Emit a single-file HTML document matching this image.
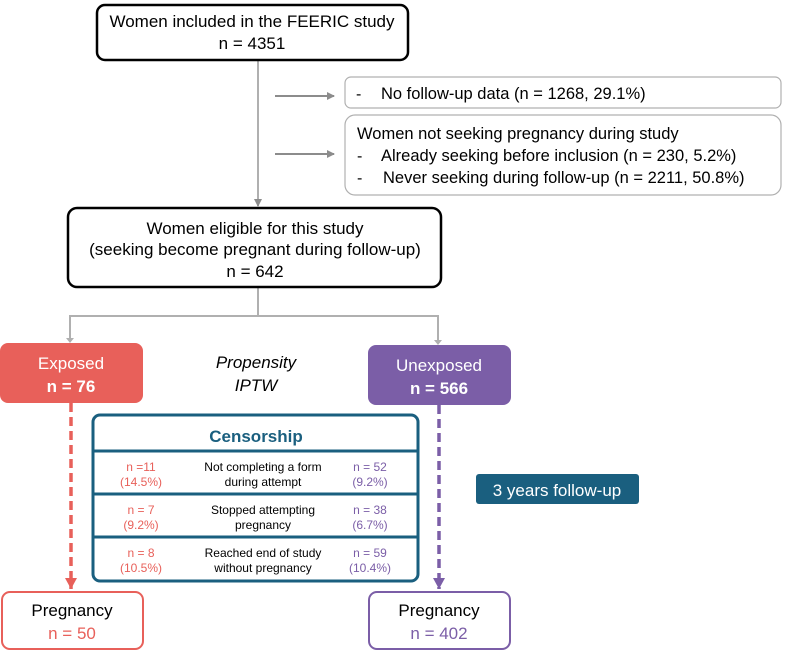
<!DOCTYPE html>
<html><head><meta charset="utf-8"><style>
html,body{margin:0;padding:0;background:#fff;}
svg{display:block;font-family:"Liberation Sans",Arial,sans-serif;}
</style></head><body>
<svg width="787" height="651" viewBox="0 0 787 651" xmlns="http://www.w3.org/2000/svg">
<defs>
<marker id="ga" markerWidth="8" markerHeight="8" refX="7" refY="4" orient="auto" markerUnits="userSpaceOnUse"><path d="M0,0 L8,4 L0,8z" fill="#8c8c8c"/></marker>
<marker id="ra" markerWidth="12" markerHeight="12" refX="6" refY="11" orient="0" markerUnits="userSpaceOnUse"><path d="M0,0 L12,0 L6,11z" fill="#e8605a"/></marker>
<marker id="pa" markerWidth="12" markerHeight="12" refX="6" refY="11" orient="0" markerUnits="userSpaceOnUse"><path d="M0,0 L12,0 L6,11z" fill="#7b5ea7"/></marker>
</defs>
<line x1="258" y1="60" x2="258" y2="206" stroke="#b0b0b0" stroke-width="2" marker-end="url(#ga)"/>
<line x1="275" y1="96" x2="334" y2="96" stroke="#8c8c8c" stroke-width="2" marker-end="url(#ga)"/>
<line x1="275" y1="154" x2="334" y2="154" stroke="#8c8c8c" stroke-width="2" marker-end="url(#ga)"/>
<polyline points="258,287 258,316" fill="none" stroke="#b0b0b0" stroke-width="2"/>
<polyline points="70,338 70,316 438,316 438,341" fill="none" stroke="#b0b0b0" stroke-width="2"/>
<path d="M66,338 l4,5 l4,-5z M434,340 l4,5 l4,-5z" fill="#b0b0b0"/>
<rect x="97" y="5" width="311" height="55" rx="8" fill="#fff" stroke="#000" stroke-width="2.5"/>
<text x="252" y="27" font-size="17" text-anchor="middle">Women included in the FEERIC study</text>
<text x="252" y="49" font-size="17" text-anchor="middle">n = 4351</text>
<rect x="345" y="77" width="436" height="31" rx="6" fill="#fff" stroke="#b0b0b0" stroke-width="1.2"/>
<text x="356" y="99" font-size="16">-</text>
<text x="381" y="99" font-size="16.5">No follow-up data (n = 1268, 29.1%)</text>
<rect x="345" y="115" width="436" height="80" rx="10" fill="#fff" stroke="#b0b0b0" stroke-width="1.2"/>
<text x="357" y="139" font-size="16.5">Women not seeking pregnancy during study</text>
<text x="357" y="161" font-size="16">-</text>
<text x="381" y="161" font-size="16.5">Already seeking before inclusion (n = 230, 5.2%)</text>
<text x="357" y="183" font-size="16">-</text>
<text x="383" y="183" font-size="16.5">Never seeking during follow-up (n = 2211, 50.8%)</text>
<rect x="68" y="208" width="373" height="79" rx="9" fill="#fff" stroke="#000" stroke-width="2.5"/>
<text x="255" y="234" font-size="17" text-anchor="middle">Women eligible for this study</text>
<text x="255" y="255" font-size="17" text-anchor="middle">(seeking become pregnant during follow-up)</text>
<text x="255" y="277" font-size="17" text-anchor="middle">n = 642</text>
<rect x="0" y="343" width="143" height="60" rx="8" fill="#e8605a"/>
<text x="71" y="369" font-size="17" fill="#fff" text-anchor="middle">Exposed</text>
<text x="71" y="392" font-size="17" font-weight="bold" fill="#fff" text-anchor="middle">n = 76</text>
<rect x="368" y="345" width="143" height="60" rx="8" fill="#7b5ea7"/>
<text x="439" y="371" font-size="17" fill="#fff" text-anchor="middle">Unexposed</text>
<text x="439" y="394" font-size="17" font-weight="bold" fill="#fff" text-anchor="middle">n = 566</text>
<text x="256" y="368" font-size="17" font-style="italic" text-anchor="middle">Propensity</text>
<text x="256" y="391" font-size="17" font-style="italic" text-anchor="middle">IPTW</text>
<line x1="71" y1="403" x2="71" y2="589" stroke="#e8605a" stroke-width="3.5" stroke-dasharray="9,5" marker-end="url(#ra)"/>
<line x1="439" y1="405" x2="439" y2="589" stroke="#7b5ea7" stroke-width="3.5" stroke-dasharray="9,5" marker-end="url(#pa)"/>
<rect x="93" y="415" width="325" height="166" rx="7" fill="#fff" stroke="#1a5f7f" stroke-width="3"/>
<line x1="93" y1="451" x2="418" y2="451" stroke="#1a5f7f" stroke-width="3"/>
<line x1="93" y1="494" x2="418" y2="494" stroke="#1a5f7f" stroke-width="3"/>
<line x1="93" y1="537" x2="418" y2="537" stroke="#1a5f7f" stroke-width="3"/>
<text x="256" y="442" font-size="17" font-weight="bold" fill="#1a5f7f" text-anchor="middle">Censorship</text>
<g font-size="12" text-anchor="middle">
<text x="141" y="471" fill="#e8605a">n =11</text><text x="141" y="486" fill="#e8605a">(14.5%)</text>
<text x="263" y="471">Not completing a form</text><text x="263" y="486">during attempt</text>
<text x="370" y="471" fill="#7b5ea7">n = 52</text><text x="370" y="486" fill="#7b5ea7">(9.2%)</text>
<text x="141" y="514" fill="#e8605a">n = 7</text><text x="141" y="529" fill="#e8605a">(9.2%)</text>
<text x="263" y="514">Stopped attempting</text><text x="263" y="529">pregnancy</text>
<text x="370" y="514" fill="#7b5ea7">n = 38</text><text x="370" y="529" fill="#7b5ea7">(6.7%)</text>
<text x="141" y="557" fill="#e8605a">n = 8</text><text x="141" y="572" fill="#e8605a">(10.5%)</text>
<text x="263" y="557">Reached end of study</text><text x="263" y="572">without pregnancy</text>
<text x="370" y="557" fill="#7b5ea7">n = 59</text><text x="370" y="572" fill="#7b5ea7">(10.4%)</text>
</g>
<rect x="476" y="474" width="163" height="30" rx="3" fill="#1a5f7f"/>
<text x="557" y="496" font-size="17" fill="#fff" text-anchor="middle">3 years follow-up</text>
<rect x="2" y="592" width="141" height="57" rx="8" fill="#fff" stroke="#e8605a" stroke-width="2"/>
<text x="72" y="616" font-size="17" text-anchor="middle">Pregnancy</text>
<text x="72" y="639" font-size="17" fill="#e8605a" text-anchor="middle">n = 50</text>
<rect x="369" y="592" width="141" height="57" rx="8" fill="#fff" stroke="#7b5ea7" stroke-width="2"/>
<text x="439" y="616" font-size="17" text-anchor="middle">Pregnancy</text>
<text x="439" y="639" font-size="17" fill="#7b5ea7" text-anchor="middle">n = 402</text>
</svg>
</body></html>
